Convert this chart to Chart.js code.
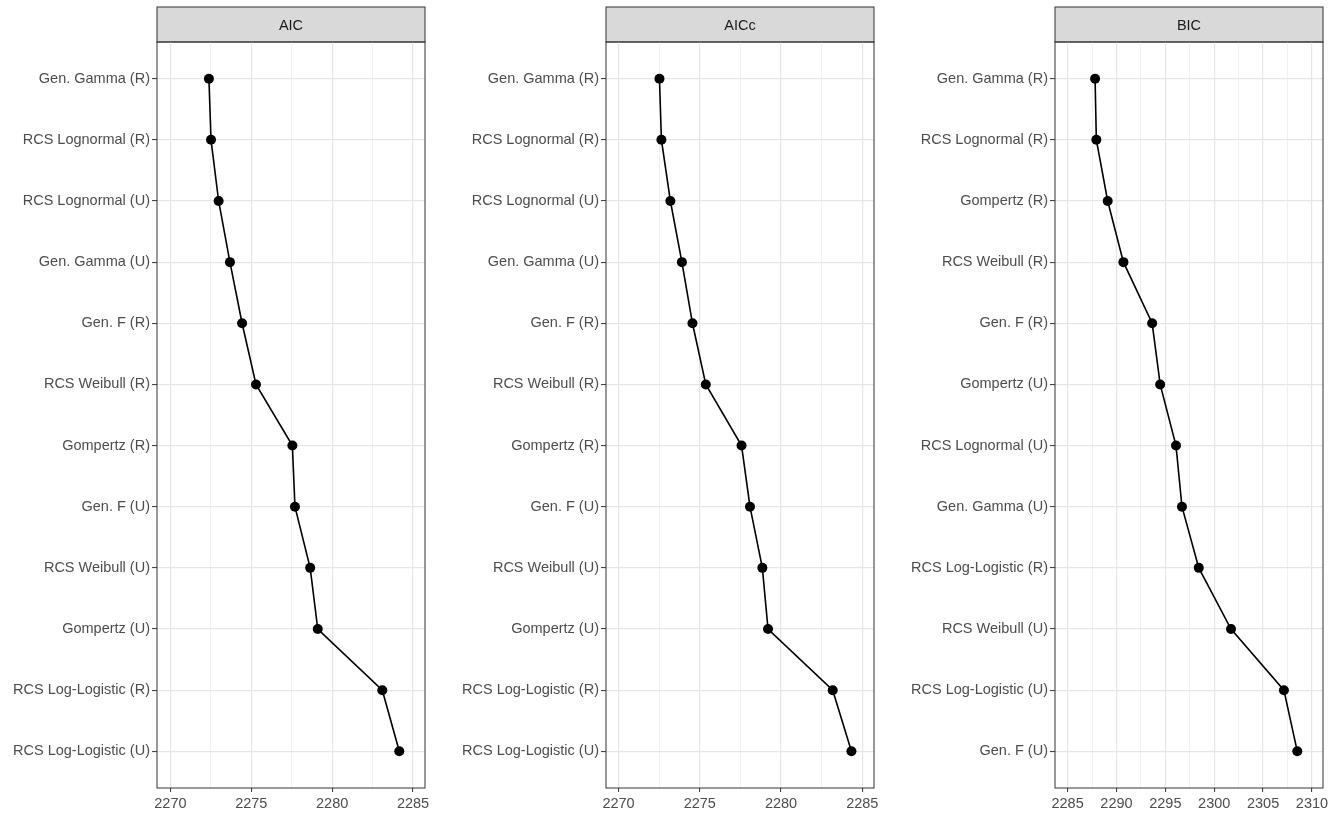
<!DOCTYPE html>
<html>
<head>
<meta charset="utf-8">
<script src="https://cdn.jsdelivr.net/npm/chart.js@4"></script>
<style>
  body { margin: 0; background: #fff; overflow: hidden; }
  .panel { position: absolute; top: 0; }
</style>
</head>
<body>
<div class="panel" style="left:0px"><canvas id="aicChart" width="435" height="814"></canvas></div>
<div class="panel" style="left:449px"><canvas id="aiccChart" width="435" height="814"></canvas></div>
<div class="panel" style="left:898px"><canvas id="bicChart" width="435" height="814"></canvas></div>
<script>
// model order (top to bottom) for each criterion
var modelsAIC = ['Gen. Gamma (R)', 'RCS Lognormal (R)', 'RCS Lognormal (U)', 'Gen. Gamma (U)', 'Gen. F (R)',
    'RCS Weibull (R)', 'Gompertz (R)', 'Gen. F (U)', 'RCS Weibull (U)', 'Gompertz (U)',
    'RCS Log-Logistic (R)', 'RCS Log-Logistic (U)'];
var modelsAICc = modelsAIC.slice();
var modelsBIC = ['Gen. Gamma (R)', 'RCS Lognormal (R)', 'Gompertz (R)', 'RCS Weibull (R)', 'Gen. F (R)',
    'Gompertz (U)', 'RCS Lognormal (U)', 'Gen. Gamma (U)', 'RCS Log-Logistic (R)', 'RCS Weibull (U)',
    'RCS Log-Logistic (U)', 'Gen. F (U)'];

var aicValues = [2272.38, 2272.51, 2272.98, 2273.68, 2274.43, 2275.29, 2277.54, 2277.7, 2278.64, 2279.11, 2283.1, 2284.15];
var aiccValues = [2272.52, 2272.64, 2273.19, 2273.9, 2274.55, 2275.37, 2277.57, 2278.09, 2278.85, 2279.2, 2283.18, 2284.33];
var bicValues = [2287.81, 2287.94, 2289.1, 2290.71, 2293.65, 2294.47, 2296.09, 2296.7, 2298.42, 2301.72, 2307.13, 2308.5];

var ticksAIC = [2270, 2275, 2280, 2285];
var ticksAICc = [2270, 2275, 2280, 2285];
var ticksBIC = [2285, 2290, 2295, 2300, 2305, 2310];

var FONT = '"Liberation Sans", Arial, sans-serif';

// grey strip with facet title + panel border
var stripPlugin = {
    id: 'strip',
    beforeDraw: function(chart) {
        var ctx = chart.ctx, a = chart.chartArea;
        ctx.save();
        ctx.fillStyle = '#d9d9d9';
        ctx.fillRect(a.left, 7, a.right - a.left, a.top - 7);
        ctx.strokeStyle = '#333';
        ctx.lineWidth = 1;
        ctx.strokeRect(a.left, 7, a.right - a.left, a.top - 7);
        ctx.fillStyle = '#1a1a1a';
        ctx.font = '14.5px ' + FONT;
        ctx.textAlign = 'center';
        ctx.textBaseline = 'middle';
        ctx.fillText(chart.options.plugins.strip.text, (a.left + a.right) / 2, (7 + a.top) / 2 + 1);
        ctx.restore();
    },
    afterDraw: function(chart) {
        var ctx = chart.ctx, a = chart.chartArea;
        ctx.save();
        ctx.strokeStyle = '#333';
        ctx.lineWidth = 1;
        ctx.strokeRect(a.left, a.top, a.right - a.left, a.bottom - a.top);
        ctx.restore();
    }
};

function makePanel(id, title, models, values, majors, xMin, xMax) {
    var points = values.map(function(v, i) { return { x: v, y: i }; });
    return new Chart(document.getElementById(id), {
        type: 'scatter',
        data: {
            datasets: [{
                data: points,
                showLine: true,
                borderColor: '#000',
                borderWidth: 1.6,
                pointRadius: 5,
                pointBackgroundColor: '#000',
                pointBorderWidth: 0
            }]
        },
        options: {
            responsive: false,
            animation: false,
            layout: { padding: { top: 42, right: 10, bottom: 0, left: 0 } },
            plugins: {
                legend: { display: false },
                tooltip: { enabled: false },
                strip: { text: title }
            },
            scales: {
                x: {
                    type: 'linear',
                    min: xMin,
                    max: xMax,
                    border: { display: false },
                    afterBuildTicks: function(axis) {
                        var t = [];
                        for (var v = majors[0] - 2.5; v <= majors[majors.length - 1] + 2.5; v += 2.5) {
                            if (v >= xMin && v <= xMax) t.push({ value: v });
                        }
                        axis.ticks = t;
                    },
                    afterFit: function(scale) { scale.height = 26; },
                    grid: {
                        color: function(c) { return c.tick && c.tick.value % 5 === 0 ? '#e6e6e6' : '#efefef'; },
                        lineWidth: function(c) { return c.tick && c.tick.value % 5 === 0 ? 1.2 : 0.9; },
                        tickColor: function(c) { return c.tick && c.tick.value % 5 === 0 ? '#333' : 'rgba(0,0,0,0)'; },
                        tickLength: 4,
                        tickWidth: 1
                    },
                    ticks: {
                        autoSkip: false,
                        maxRotation: 0,
                        minRotation: 0,
                        padding: 3,
                        color: '#4d4d4d',
                        font: { family: FONT, size: 14.5 },
                        callback: function(v) { return majors.indexOf(v) >= 0 ? String(v) : ''; }
                    }
                },
                y: {
                    type: 'linear',
                    reverse: true,
                    min: -0.6,
                    max: models.length - 0.4,
                    border: { display: false },
                    afterBuildTicks: function(axis) {
                        axis.ticks = models.map(function(m, i) { return { value: i }; });
                    },
                    afterFit: function(scale) { scale.width = 157; },
                    grid: {
                        color: '#e6e6e6',
                        lineWidth: 1.2,
                        tickColor: '#333',
                        tickLength: 5,
                        tickWidth: 1
                    },
                    ticks: {
                        autoSkip: false,
                        padding: 2,
                        color: '#4d4d4d',
                        font: { family: FONT, size: 14.5 },
                        callback: function(v) { return models[v]; }
                    }
                }
            }
        },
        plugins: [stripPlugin]
    });
}

window.onload = function() {
    window.aicChart = makePanel('aicChart', 'AIC', modelsAIC, aicValues, ticksAIC, 2269.17, 2285.74);
    window.aiccChart = makePanel('aiccChart', 'AICc', modelsAICc, aiccValues, ticksAICc, 2269.23, 2285.72);
    window.bicChart = makePanel('bicChart', 'BIC', modelsBIC, bicValues, ticksBIC, 2283.71, 2311.13);
};
</script>
</body>
</html>
